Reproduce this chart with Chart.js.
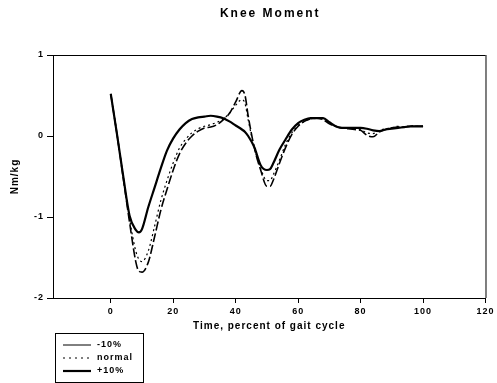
<!DOCTYPE html>
<html>
<head>
<meta charset="utf-8">
<title>Knee Moment</title>
<script src="https://cdn.jsdelivr.net/npm/chart.js@4"></script>
<style>
  html, body { margin: 0; padding: 0; background: #fff; }
  #wrap { width: 497px; height: 383px; position: relative; }
</style>
</head>
<body>
<div id="wrap"><canvas id="chartKnee" width="497" height="383"></canvas></div>
<script>
'use strict';

// --- datos ---
const chartTitle = 'Knee Moment';
const xTitle = 'Time, percent of gait cycle';
const yTitle = 'Nm/kg';
const xTicks = [0, 20, 40, 60, 80, 100, 120];
const yTicks = [-2, -1, 0, 1];
const seriesNames = ['-10%', 'normal', '+10%'];

const time = [0, 2, 4, 6, 8, 9, 10, 12, 14, 16, 18, 20, 22, 24, 26, 28, 30, 32, 34, 36, 38, 40, 42, 43, 44, 46, 48, 50, 51, 52,
  54, 56, 58, 60, 62, 64, 66, 68, 70, 72, 74, 76, 78, 80, 82, 84, 86, 88, 90, 92, 94, 96, 98, 100];

const minus10 = [0.52, 0.02, -0.52, -1.06, -1.55, -1.67, -1.68, -1.56, -1.25, -0.92, -0.66, -0.42, -0.22, -0.09, 0.0, 0.06,
  0.10, 0.11, 0.14, 0.20, 0.28, 0.42, 0.56, 0.50, 0.25, -0.15, -0.42, -0.62, -0.62, -0.55,
  -0.34, -0.14, 0.02, 0.12, 0.18, 0.21, 0.22, 0.20, 0.15, 0.12, 0.10, 0.09, 0.08, 0.07, 0.01, -0.01, 0.05, 0.08, 0.10, 0.11,
  0.11, 0.12, 0.12, 0.12];

const normal = [0.52, 0.02, -0.50, -1.02, -1.42, -1.52, -1.55, -1.42, -1.12, -0.80, -0.55, -0.33, -0.15, -0.04, 0.04, 0.09,
  0.12, 0.14, 0.17, 0.21, 0.28, 0.38, 0.45, 0.40, 0.20, -0.15, -0.40, -0.55, -0.55, -0.48,
  -0.30, -0.10, 0.04, 0.13, 0.18, 0.21, 0.22, 0.21, 0.16, 0.12, 0.10, 0.10, 0.09, 0.08, 0.04, 0.03, 0.07, 0.09, 0.10, 0.12,
  0.11, 0.13, 0.12, 0.12];

const plus10 = [0.52, 0.02, -0.50, -0.98, -1.16, -1.19, -1.15, -0.88, -0.64, -0.40, -0.18, -0.03, 0.08, 0.16, 0.21, 0.23,
  0.24, 0.25, 0.24, 0.22, 0.18, 0.13, 0.08, 0.05, 0.0, -0.14, -0.36, -0.42, -0.41, -0.34,
  -0.17, -0.04, 0.08, 0.16, 0.20, 0.22, 0.22, 0.22, 0.17, 0.12, 0.10, 0.10, 0.10, 0.10, 0.09, 0.07, 0.06, 0.08, 0.09, 0.10,
  0.11, 0.12, 0.12, 0.12];

const FONT = "'Liberation Sans', Arial, sans-serif";
Chart.defaults.font.family = FONT;
Chart.defaults.color = '#000';

const toXY = arr => arr.map((v, i) => ({ x: time[i], y: v }));

// estilos de línea por serie (lo mismo se usa en la leyenda)
const lineStyles = [
  { width: 1.6, dash: [9, 3], legendWidth: 1, legendDash: [] },
  { width: 1.2, dash: [2, 3], legendWidth: 1.2, legendDash: [2, 4] },
  { width: 2.2, dash: [], legendWidth: 2.2, legendDash: [] }
];

// texto espaciado como en la figura original
const spacingPlugin = {
  id: 'spacing',
  beforeDraw(chart) { chart.ctx.letterSpacing = '1px'; }
};

// título centrado sobre el área del gráfico, marco y leyenda en caja
const framePlugin = {
  id: 'frame',
  afterDraw(chart) {
    const { ctx, chartArea: a } = chart;
    ctx.save();
    ctx.strokeStyle = '#000';
    ctx.lineWidth = 1;
    ctx.beginPath();
    ctx.moveTo(a.left, a.top + 0.5);
    ctx.lineTo(a.right + 0.5, a.top + 0.5);
    ctx.stroke();
    ctx.strokeStyle = '#555';
    ctx.lineWidth = 1.5;
    ctx.beginPath();
    ctx.moveTo(a.right + 0.5, a.top);
    ctx.lineTo(a.right + 0.5, a.bottom);
    ctx.stroke();

    // título
    ctx.fillStyle = '#000';
    ctx.font = 'bold 12px ' + FONT;
    ctx.letterSpacing = '2px';
    ctx.textAlign = 'center';
    ctx.textBaseline = 'middle';
    ctx.fillText(chartTitle, (a.left + a.right) / 2 + 1, 14);

    // leyenda
    const bx = a.left + 2, by = a.bottom + 35, bw = 88, bh = 49;
    ctx.letterSpacing = '1px';
    ctx.lineWidth = 1;
    ctx.strokeStyle = '#000';
    ctx.setLineDash([]);
    ctx.strokeRect(bx + 0.5, by + 0.5, bw, bh);
    ctx.font = 'bold 9px ' + FONT;
    ctx.textAlign = 'left';
    seriesNames.forEach((name, i) => {
      const y = by + 12 + i * 13;
      const st = lineStyles[i];
      ctx.lineWidth = st.legendWidth;
      ctx.setLineDash(st.legendDash);
      ctx.beginPath();
      ctx.moveTo(bx + 8, y);
      ctx.lineTo(bx + 36, y);
      ctx.stroke();
      ctx.setLineDash([]);
      ctx.fillText(name, bx + 42, y);
    });
    ctx.restore();
  }
};

const ctx = document.getElementById('chartKnee').getContext('2d');
new Chart(ctx, {
  type: 'line',
  data: {
    datasets: [minus10, normal, plus10].map((arr, i) => ({
      label: seriesNames[i],
      data: toXY(arr),
      borderColor: '#000',
      borderWidth: lineStyles[i].width,
      borderDash: lineStyles[i].dash,
      pointRadius: 0,
      cubicInterpolationMode: 'monotone',
      fill: false
    }))
  },
  options: {
    responsive: false,
    animation: false,
    events: [],
    layout: { padding: { top: 55, right: 9, bottom: 45, left: 0 } },
    plugins: { legend: { display: false }, title: { display: false }, tooltip: { enabled: false } },
    scales: {
      x: {
        type: 'linear',
        min: -18.5,
        max: 120,
        afterBuildTicks: s => { s.ticks = xTicks.map(v => ({ value: v })); },
        grid: { drawOnChartArea: false, tickLength: 5, color: '#000' },
        border: { color: '#000', width: 1 },
        ticks: { font: { size: 9, weight: 'bold', lineHeight: 1 }, padding: 4, maxRotation: 0 },
        title: { display: true, text: xTitle, font: { size: 10, weight: 'bold' }, padding: { top: 0, bottom: 6 } }
      },
      y: {
        min: -2,
        max: 1,
        afterBuildTicks: s => { s.ticks = yTicks.map(v => ({ value: v })); },
        afterFit: s => { s.width = 53; },
        grid: { drawOnChartArea: false, tickLength: 6, color: '#000' },
        border: { color: '#000', width: 1 },
        ticks: { font: { size: 9, weight: 'bold' }, padding: 3 },
        title: { display: true, text: yTitle, font: { size: 10, weight: 'bold' }, padding: { top: 9, bottom: 0 } }
      }
    }
  },
  plugins: [spacingPlugin, framePlugin]
});
</script>
</body>
</html>
